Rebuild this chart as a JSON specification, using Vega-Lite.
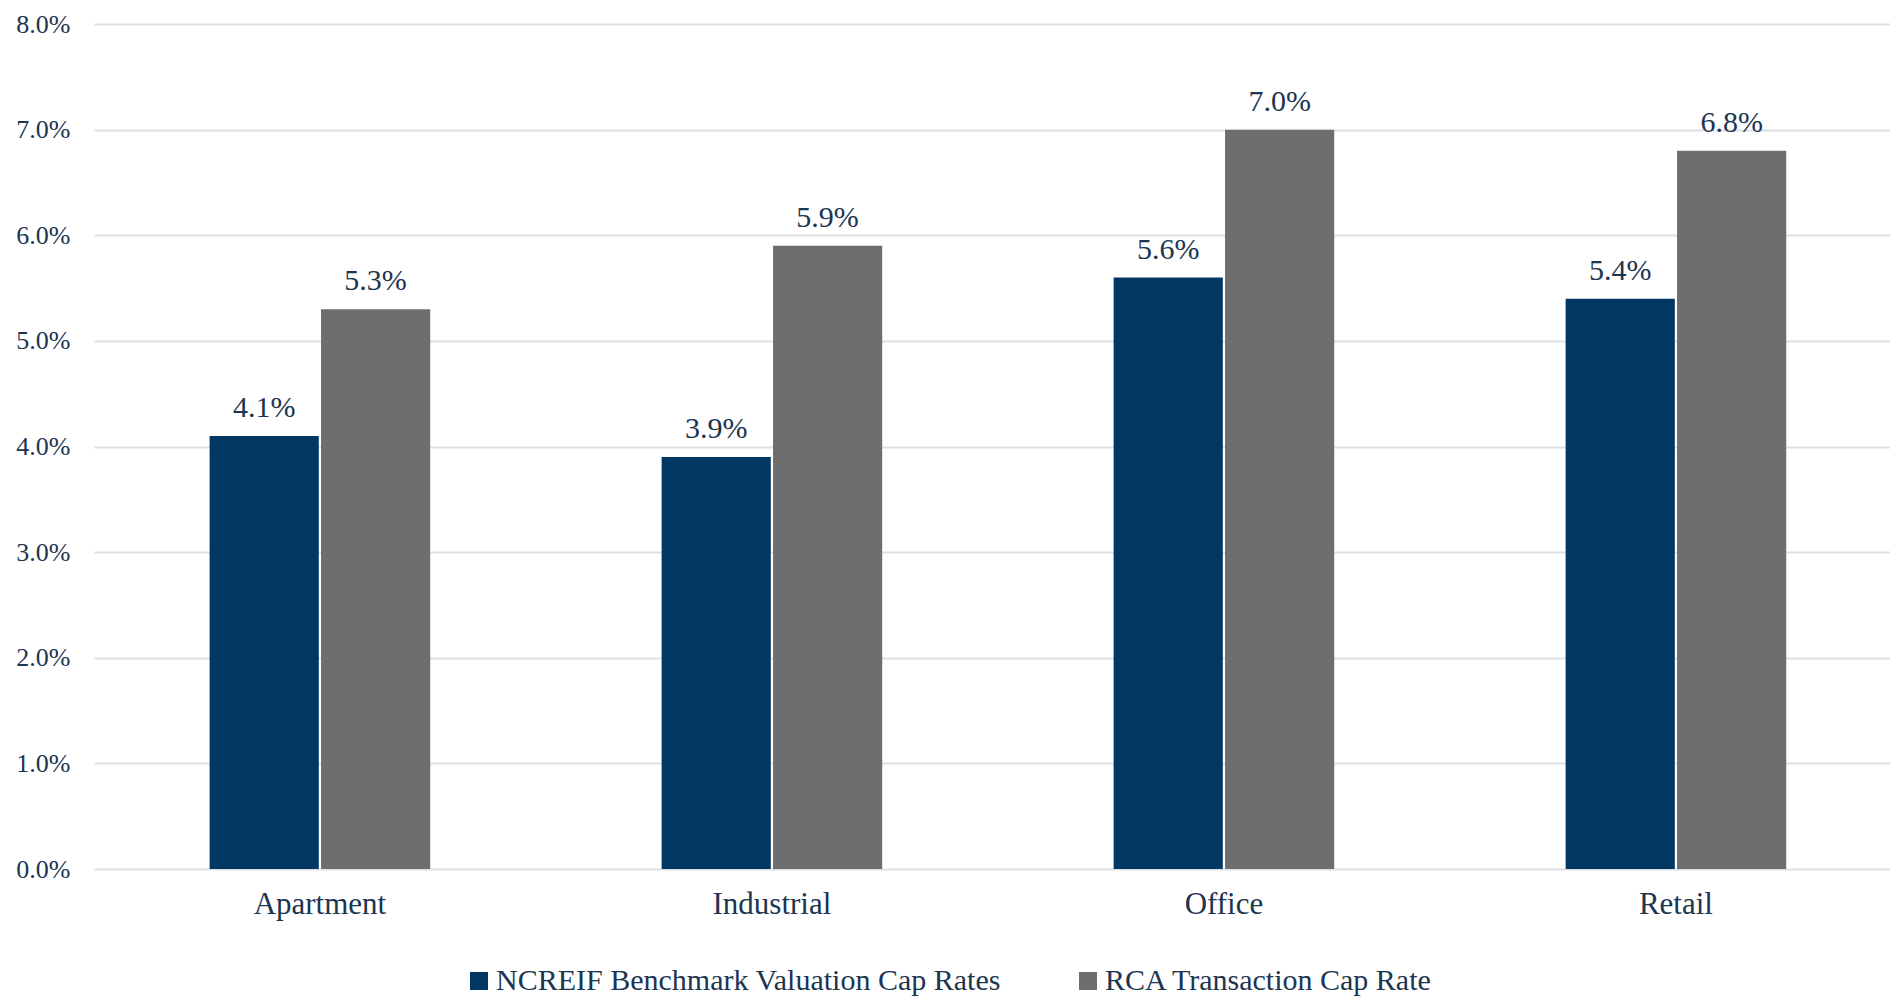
{
  "$schema": "https://vega.github.io/schema/vega-lite/v6.json",
  "width": 1796,
  "height": 845,
  "autosize": {"type": "none"},
  "padding": {"left": 94, "top": 24, "right": 0, "bottom": 131},
  "background": "white",
  "config": {
    "view": {"stroke": null},
    "font": "Liberation Serif"
  },
  "data": {
    "values": [
      {"type": "Apartment", "series": "NCREIF Benchmark Valuation Cap Rates", "value": 0.041},
      {"type": "Apartment", "series": "RCA Transaction Cap Rate", "value": 0.053},
      {"type": "Industrial", "series": "NCREIF Benchmark Valuation Cap Rates", "value": 0.039},
      {"type": "Industrial", "series": "RCA Transaction Cap Rate", "value": 0.059},
      {"type": "Office", "series": "NCREIF Benchmark Valuation Cap Rates", "value": 0.056},
      {"type": "Office", "series": "RCA Transaction Cap Rate", "value": 0.070},
      {"type": "Retail", "series": "NCREIF Benchmark Valuation Cap Rates", "value": 0.054},
      {"type": "Retail", "series": "RCA Transaction Cap Rate", "value": 0.068}
    ]
  },
  "encoding": {
    "x": {
      "field": "type", "type": "nominal", "sort": null,
      "scale": {"paddingInner": 0.512, "paddingOuter": 0.2427, "align": 0.527},
      "axis": {"title": null, "labelAngle": 0, "labelFontSize": 31, "labelColor": "#1c3550", "labelPadding": 20, "ticks": false, "domain": false, "labelFont": "Liberation Serif"}
    },
    "xOffset": {"field": "series", "type": "nominal", "scale": {"paddingInner": 0.02}},
    "y": {
      "field": "value", "type": "quantitative",
      "scale": {"domain": [0, 0.08]},
      "axis": {"title": null, "format": ".1%", "values": [0, 0.01, 0.02, 0.03, 0.04, 0.05, 0.06, 0.07, 0.08], "labelFontSize": 26, "labelColor": "#1c3550", "labelPadding": 24, "ticks": false, "domain": false, "gridColor": "#dfdfe6", "gridWidth": 2, "labelFont": "Liberation Serif"}
    }
  },
  "layer": [
    {
      "mark": {"type": "bar"},
      "encoding": {
        "color": {
          "field": "series", "type": "nominal",
          "scale": {"domain": ["NCREIF Benchmark Valuation Cap Rates", "RCA Transaction Cap Rate"], "range": ["#023764", "#6e6e6e"]},
          "legend": {
            "title": null, "orient": "none", "direction": "horizontal",
            "legendX": 370, "legendY": 942,
            "symbolType": "square", "symbolSize": 324, "symbolStrokeWidth": 0,
            "labelFontSize": 30, "labelColor": "#1c3550", "labelFont": "Liberation Serif",
            "labelOffset": 2, "columnPadding": 72, "labelLimit": 1000
          }
        }
      }
    },
    {
      "mark": {"type": "text", "baseline": "alphabetic", "dy": -19, "fontSize": 30, "color": "#1c3550", "font": "Liberation Serif"},
      "encoding": {
        "text": {"field": "value", "type": "quantitative", "format": ".1%"}
      }
    }
  ]
}
